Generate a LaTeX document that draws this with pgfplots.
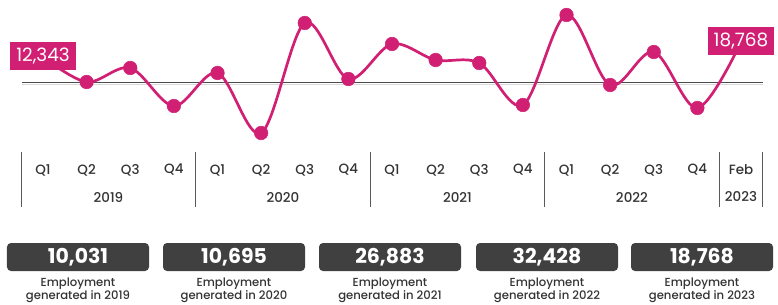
\documentclass[border=0pt]{standalone}
\usepackage{pgfplots}
\pgfplotsset{compat=1.18}
\usepackage{fontspec}
\setmainfont{Poppins}
\newfontfamily\medfont{Poppins}[UprightFont=* Medium]
\definecolor{mag}{HTML}{D11F74}
\definecolor{dgray}{HTML}{404040}
\definecolor{tgray}{HTML}{333333}
\begin{document}
\begin{tikzpicture}[x=1bp,y=1bp]
\useasboundingbox (0,0) rectangle (778,304);
\begin{axis}[at={(0,0)},anchor=south west, scale only axis, width=778bp, height=304bp,
  xmin=-0.9857, xmax=16.848, ymin=0, ymax=304, hide axis, clip=false]
\addplot[black!15, line width=1bp] coordinates {(-0.48,219.8) (16.5,219.8)};
\addplot[black!70, line width=1bp] coordinates {(-0.48,221) (16.5,221)};
\addplot[mag, line width=2.7bp, smooth, tension=0.55, mark=*, mark size=6.8bp,
  mark options={fill=mag,draw=mag,line width=0.5bp}] coordinates {
(0,247) (1,222) (2,236) (3,198)
(4,231) (5,171) (6,281) (7,225)
(8,260) (9,244) (10,241) (11,199)
(12,289) (13,219) (14,252) (15,196)
(16,262)};
\end{axis}
\node[fill=mag, text=white, minimum width=66bp, minimum height=28bp, inner sep=0pt,
  font=\fontsize{18.5}{18.5}\selectfont] at (43,248) {12,343};
\node[fill=mag, text=white, minimum width=66bp, minimum height=28bp, inner sep=0pt,
  font=\fontsize{18.5}{18.5}\selectfont] at (741,263) {18,768};
% category labels
\foreach \i/\t in {0/Q1,1/Q2,2/Q3,3/Q4,4/Q1,5/Q2,6/Q3,7/Q4,8/Q1,9/Q2,10/Q3,11/Q4,12/Q1,13/Q2,14/Q3,15/Q4,16/Feb}
  \node[text=tgray, font=\medfont\fontsize{13.5}{13.5}\selectfont] at ({43+43.625*\i},134) {\t};
\foreach \i/\t in {1.5/2019,5.5/2020,9.5/2021,13.5/2022,16/2023}
  \node[text=tgray, font=\medfont\fontsize{13.5}{13.5}\selectfont] at ({43+43.625*\i},107) {\t};
\foreach \i in {-0.5,3.5,7.5,11.5,15.5,16.5}
  \draw[black!65, line width=0.9bp] ({43+43.625*\i},152) -- ({43+43.625*\i},97);
% totals
\node[fill=dgray, rounded corners=4bp, minimum width=142bp, minimum height=28bp, text=white, inner sep=0pt,
  font=\bfseries\fontsize{20.5}{20.5}\selectfont] at (78,47) {10,031};
\node[fill=dgray, rounded corners=4bp, minimum width=142bp, minimum height=28bp, text=white, inner sep=0pt,
  font=\bfseries\fontsize{20.5}{20.5}\selectfont] at (234,47) {10,695};
\node[fill=dgray, rounded corners=4bp, minimum width=142bp, minimum height=28bp, text=white, inner sep=0pt,
  font=\bfseries\fontsize{20.5}{20.5}\selectfont] at (390,47) {26,883};
\node[fill=dgray, rounded corners=4bp, minimum width=142bp, minimum height=28bp, text=white, inner sep=0pt,
  font=\bfseries\fontsize{20.5}{20.5}\selectfont] at (547,47) {32,428};
\node[fill=dgray, rounded corners=4bp, minimum width=142bp, minimum height=28bp, text=white, inner sep=0pt,
  font=\bfseries\fontsize{20.5}{20.5}\selectfont] at (702,47) {18,768};
\foreach \cx/\yr in {78/2019,234/2020,390/2021,547/2022,702/2023}
  \node[align=center, text=tgray, font=\medfont\fontsize{11.7}{13}\selectfont] at (\cx,14) {Employment\\generated in \yr};
\end{tikzpicture}
\end{document}
